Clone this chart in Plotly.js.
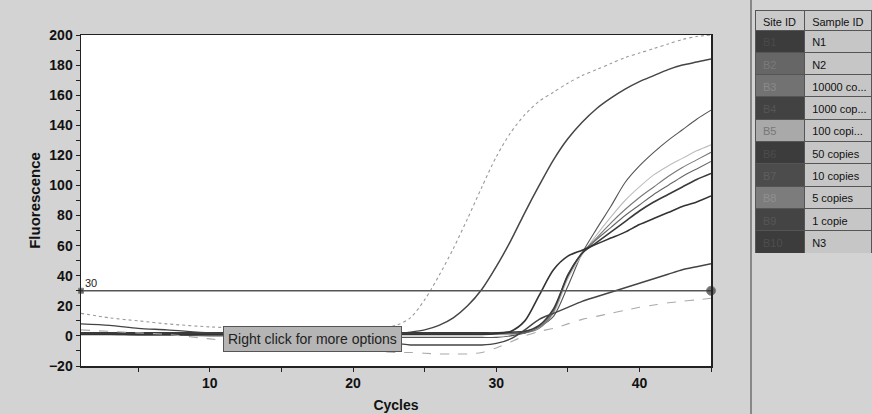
<!DOCTYPE html>
<html>
<head>
<meta charset="utf-8">
<script src="https://cdn.plot.ly/plotly-3.0.1.min.js"></script>
<style>
html,body{margin:0;padding:0;background:#d3d3d3;}
#chart{width:872px;height:414px;}
</style>
</head>
<body>
<div id="chart"></div>
<script>
// ---- data ----
const cycles = [1,3,5,7,10,13,16,19,21,23,24,25,26,27,28,29,30,31,32,33,34,35,36,37,38,39,40,41,42,43,44,45];

const s10000 = [15,12,10,8,6,5,4,4,4.5,7,12,24,40,58,78,99,119,135,147,156,162,168,173,177,181,185,188,191,194,197,199,200];
const s1000  = [2,2,1.5,1.5,1,1,1,1,1,1.5,2.5,4,7,12,20,31,46,63,82,100,117,131,142,151,158,164,169,173,177,180,182,184];
const s100   = [1,1,0.5,0.5,0,0,-0.5,-0.5,-1,-1,-1,-1,-1,-1,-1,-1,-1,0,2,6,13,33,55,71,86,102,113,122,130,137,144,150];
const sN1    = [1.5,1.5,1.5,1.5,1.5,1.5,1.5,1.5,1.5,1.5,1.5,1.5,1.5,1.5,1.5,1.5,1,1,3,6,15,38,54,67,79,90,99,107,113,118,123,127];
const s1     = [2,2,2,2,2,2,2,2,2,2,2,2,2,2,2,2,2,2,2,5,16,40,55,65,75,84,92,99,106,112,117,122];
const s5     = [1.5,1.5,1.5,1.5,1.5,1.5,1.5,1.5,1.5,1.5,1.5,1.5,1.5,1.5,1.5,1.5,1.5,1.5,2,6,17,41,55,64,72,80,87,94,100,106,111,116];
const s10    = [2,2,2,2,2,2,2,2,2,2,2,2,2,2,2,2,2,2.5,3,7,18,40,55,62,69,76,83,89,94,99,104,108];
const s50    = [1,1,1,1,1,1,1,1,1,1,1,1,1,1,1,1,1.5,3,10,27,44,53,57,61,65,69,74,78,82,86,89,93];
const sN2    = [8,7,5,4,2,1,0,-2,-4,-5,-6,-6,-6,-6,-6,-6,-5,-2,4,11,15,19,23,26,29,32,35,38,41,44,46,48];
const sN3    = [4,3,2,1,-2,-5,-7,-9,-10,-11,-11,-11.5,-12,-12,-12,-11,-8,-4,0,3,5,8,11,13,15,17,19,20.5,22,23,24,25];

const thresholdX = [1,45];
const thresholdY = [30,30];

const siteIDs   = ["B1","B2","B3","B4","B5","B6","B7","B8","B9","B10"];
const sampleIDs = ["N1","N2","10000 co...","1000 cop...","100 copi...","50 copies","10 copies","5 copies","1 copie","N3"];
const headers   = ["Site ID","Sample ID"];
const siteFill  = ["#3c3c3c","#666666","#727272","#424242","#a9a9a9","#3c3c3c","#4c4c4c","#7c7c7c","#444444","#3c3c3c"];
const siteText  = ["#4a4a4a","#7a7a7a","#8a8a8a","#555555","#777777","#4c4c4c","#5e5e5e","#909090","#565656","#4e4e4e"];

// keep table labels on a single line
const nb = t => t.replace(/ /g, "\u00a0");

// ---- traces ----
const series = [
  {name:"10000 copies", y:s10000, color:"#9a9a9a", width:1.1, dash:"dot"},
  {name:"1000 copies",  y:s1000,  color:"#454545", width:1.5, dash:"solid"},
  {name:"100 copies",   y:s100,   color:"#555555", width:1.1, dash:"solid"},
  {name:"N1",           y:sN1,    color:"#bdbdbd", width:1.1, dash:"solid"},
  {name:"1 copie",      y:s1,     color:"#777777", width:1.1, dash:"solid"},
  {name:"5 copies",     y:s5,     color:"#666666", width:1.1, dash:"solid"},
  {name:"10 copies",    y:s10,    color:"#3a3a3a", width:1.6, dash:"solid"},
  {name:"50 copies",    y:s50,    color:"#333333", width:1.6, dash:"solid"},
  {name:"N2",           y:sN2,    color:"#444444", width:1.4, dash:"solid"},
  {name:"N3",           y:sN3,    color:"#aaaaaa", width:1.1, dash:"dash"}
];

const traces = series.map(s => ({
  type:"scatter", mode:"lines", x:cycles, y:s.y, name:s.name,
  line:{color:s.color, width:s.width, dash:s.dash, shape:"spline", smoothing:0.8},
  showlegend:false, xaxis:"x", yaxis:"y"
}));

traces.push({
  type:"scatter", mode:"lines+markers", x:thresholdX, y:thresholdY, name:"Threshold",
  line:{color:"#555555", width:1.3},
  marker:{color:"#333333", size:[5,9], symbol:["square","circle"]},
  cliponaxis:false, showlegend:false
});

traces.push({
  type:"table",
  domain:{x:[755/872, 1], y:[1-253/414, 1-10/414]},
  columnwidth:[50,68],
  header:{
    values:headers.map(nb),
    align:"left", height:20,
    fill:{color:"#c9c9c9"},
    line:{color:"#555555", width:1},
    font:{family:"Liberation Sans, Arial", size:11, color:"#111111"}
  },
  cells:{
    values:[siteIDs.map(nb), sampleIDs.map(nb)],
    align:"left", height:22.3,
    fill:{color:[siteFill, sampleIDs.map(()=>"#c6c6c6")]},
    line:{color:"#555555", width:1},
    font:{family:"Liberation Sans, Arial", size:11, color:[siteText, sampleIDs.map(()=>"#111111")]}
  }
});

const tickFont = {family:"Liberation Sans, Arial", size:14, color:"#111111", weight:"bold"};

const layout = {
  width:872, height:414,
  paper_bgcolor:"#d3d3d3",
  plot_bgcolor:"#ffffff",
  margin:{l:0, r:0, t:0, b:0},
  showlegend:false,
  xaxis:{
    domain:[81/872, 711/872],
    range:[1,45],
    tick0:0, dtick:10,
    ticks:"outside", ticklen:4, tickcolor:"#222",
    minor:{dtick:5, ticks:"outside", ticklen:4, tickcolor:"#222"},
    showgrid:false, zeroline:false,
    showline:true, linecolor:"#222", linewidth:1.5, mirror:true,
    tickfont:tickFont,
    title:{text:"Cycles", font:{family:"Liberation Sans, Arial", size:14, color:"#111", weight:"bold"}, standoff:10}
  },
  yaxis:{
    domain:[48/414, 379/414],
    range:[-20,200],
    tick0:0, dtick:20,
    ticks:"outside", ticklen:4, tickcolor:"#222",
    minor:{dtick:10, ticks:"outside", ticklen:4, tickcolor:"#222"},
    showgrid:false, zeroline:false,
    showline:true, linecolor:"#222", linewidth:1.5, mirror:true,
    tickfont:tickFont,
    title:{text:"Fluorescence", font:{family:"Liberation Sans, Arial", size:15, color:"#111", weight:"bold"}, standoff:4}
  },
  annotations:[
    {x:1, y:30, xref:"x", yref:"y", text:"30", showarrow:false, xanchor:"left", yanchor:"bottom",
     xshift:2, yshift:0, font:{family:"Liberation Sans, Arial", size:11, color:"#222222"}},
    {x:17.2, y:-2, xref:"x", yref:"y", text:"Right click for more options", showarrow:false,
     bgcolor:"#b5b5b5", bordercolor:"#555555", borderwidth:1, borderpad:4,
     font:{family:"Liberation Sans, Arial", size:14, color:"#222222"}}
  ],
  shapes:[
    {type:"line", xref:"paper", yref:"paper", x0:751/872, x1:751/872, y0:0, y1:1, line:{color:"#888", width:2}}
  ]
};

Plotly.newPlot("chart", traces, layout, {displayModeBar:false, staticPlot:true});
</script>
</body>
</html>
